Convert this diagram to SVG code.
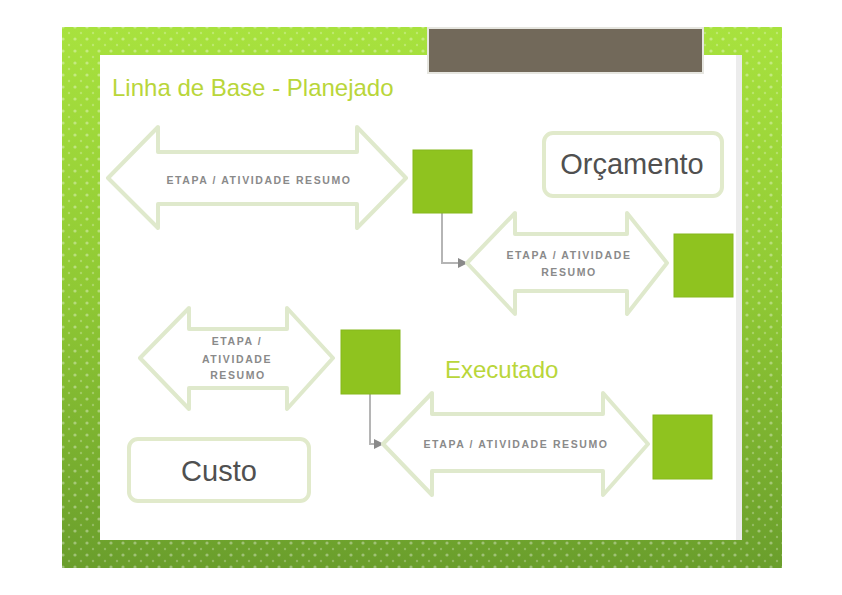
<svg xmlns="http://www.w3.org/2000/svg" width="842" height="595" viewBox="0 0 842 595">
<defs>
<linearGradient id="frameGrad" x1="0" y1="0" x2="0" y2="1">
<stop offset="0" stop-color="#a8e23e"/>
<stop offset="0.5" stop-color="#8fc834"/>
<stop offset="1" stop-color="#6a9e2c"/>
</linearGradient>
<pattern id="dots" width="12" height="12" patternUnits="userSpaceOnUse">
<circle cx="3" cy="3" r="1.6" fill="#ffffff" fill-opacity="0.35"/>
<circle cx="9" cy="9" r="1.2" fill="#ffffff" fill-opacity="0.25"/>
</pattern>
<marker id="arrowHead" viewBox="0 0 10 10" refX="9" refY="5" markerWidth="5" markerHeight="5" orient="auto">
<path d="M0,0 L10,5 L0,10 z" fill="#8a8a8a"/>
</marker>
</defs>
<style>
.darrow{fill:#ffffff;stroke:#dfe9cc;stroke-width:4;stroke-linejoin:round}
.sq{fill:#8fc31f;stroke:#86b81c;stroke-width:1}
.lbl{font-family:"Liberation Sans",Arial,sans-serif;font-size:10.5px;letter-spacing:1.6px;fill:#8a8a8a;text-anchor:middle;font-weight:bold}
.ttl{font-family:"Liberation Sans",Arial,sans-serif;font-size:24px;fill:#b9d63a}
.box{fill:#ffffff;stroke:#e1eacb;stroke-width:4}
.boxt{font-family:"Liberation Sans",Arial,sans-serif;font-size:29px;fill:#505050;text-anchor:middle}
.conn{fill:none;stroke:#b5b5b5;stroke-width:2}
</style>
<rect width="842" height="595" fill="#ffffff"/>
<g id="frame">
<rect x="62" y="27" width="720" height="541" fill="url(#frameGrad)"/>
<rect x="62" y="27" width="720" height="541" fill="url(#dots)"/>
<rect x="100" y="55" width="642" height="485" fill="#ffffff"/>
<rect x="736" y="55" width="6" height="485" fill="#ececec"/>
<rect x="428" y="28" width="275" height="45" fill="#72695a" stroke="#e6e6e0" stroke-width="2"/>
</g>
<g id="title">
<text class="ttl" x="112" y="96">Linha de Base - Planejado</text>
</g>
<g id="connectors">
<path class="conn" d="M442,213 V263 H467" marker-end="url(#arrowHead)"/>
<path class="conn" d="M370,394 V444 H383" marker-end="url(#arrowHead)"/>
</g>
<g id="arrow1">
<path class="darrow" d="M108,178 L158,127 L158,152 L357,152 L357,127 L406,178 L357,228 L357,204 L158,204 L158,228 Z"/>
<text class="lbl" x="259" y="184">ETAPA / ATIVIDADE RESUMO</text>
</g>
<g id="square1"><rect class="sq" x="413" y="150" width="59" height="63"/></g>
<g id="arrow2">
<path class="darrow" d="M467,263 L515,213 L515,234 L627,234 L627,213 L667,263 L627,314 L627,291 L515,291 L515,314 Z"/>
<text class="lbl" x="569" y="259">ETAPA / ATIVIDADE</text>
<text class="lbl" x="569" y="276">RESUMO</text>
</g>
<g id="square2"><rect class="sq" x="674" y="234" width="59" height="63"/></g>
<g id="orcamento">
<rect class="box" x="544" y="133" width="178" height="63" rx="9"/>
<text class="boxt" x="632" y="174">Orçamento</text>
</g>
<g id="arrow3">
<path class="darrow" d="M140,358 L189,308 L189,329 L287,329 L287,308 L333,358 L287,409 L287,388 L189,388 L189,409 Z"/>
<text class="lbl" x="237" y="345">ETAPA /</text>
<text class="lbl" x="237" y="363">ATIVIDADE</text>
<text class="lbl" x="238" y="379">RESUMO</text>
</g>
<g id="square3"><rect class="sq" x="341" y="330" width="59" height="64"/></g>
<g id="executado">
<text class="ttl" x="445" y="378">Executado</text>
</g>
<g id="arrow4">
<path class="darrow" d="M383,444 L432,393 L432,414 L603,414 L603,393 L648,444 L603,495 L603,471 L432,471 L432,495 Z"/>
<text class="lbl" x="516" y="448">ETAPA / ATIVIDADE RESUMO</text>
</g>
<g id="square4"><rect class="sq" x="653" y="415" width="59" height="64"/></g>
<g id="custo">
<rect class="box" x="129" y="439" width="180" height="62" rx="9"/>
<text class="boxt" x="219" y="481">Custo</text>
</g>
</svg>
